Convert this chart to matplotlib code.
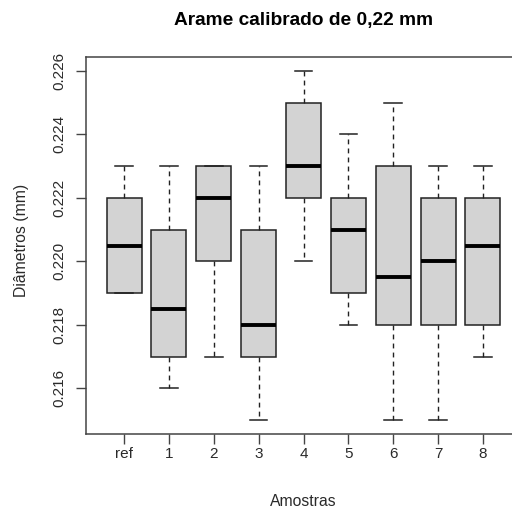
import matplotlib.pyplot as plt

plt.rcParams['font.family'] = ['Liberation Sans', 'DejaVu Sans']

amostras = ["ref", "1", "2", "3", "4", "5", "6", "7", "8"]
minimo = [0.219, 0.216, 0.217, 0.215, 0.220, 0.218, 0.215, 0.215, 0.217]
q1 = [0.219, 0.217, 0.220, 0.217, 0.222, 0.219, 0.218, 0.218, 0.218]
mediana = [0.2205, 0.2185, 0.222, 0.218, 0.223, 0.221, 0.2195, 0.220, 0.2205]
q3 = [0.222, 0.221, 0.223, 0.221, 0.225, 0.222, 0.223, 0.222, 0.222]
maximo = [0.223, 0.223, 0.223, 0.223, 0.226, 0.224, 0.225, 0.223, 0.223]

stats = []
for i in range(len(amostras)):
    stats.append(dict(label=amostras[i], whislo=minimo[i], q1=q1[i],
                      med=mediana[i], q3=q3[i], whishi=maximo[i]))

fig = plt.figure(figsize=(5.12, 5.13), dpi=100)
# o painel continua para além da borda direita
ax = fig.add_axes([85.5 / 512, 79 / 513, 436 / 512, 377 / 513])

ax.bxp(stats, positions=range(1, 10), widths=0.78, patch_artist=True,
       showfliers=False,
       boxprops=dict(facecolor="#d3d3d3", edgecolor="#222222", linewidth=1.1),
       medianprops=dict(color="black", linewidth=2.8, solid_capstyle="butt"),
       whiskerprops=dict(color="#222222", linewidth=1.0, linestyle=(0, (3.5, 3))),
       capprops=dict(color="#222222", linewidth=1.1))

ax.set_xlim(0.14, 9.86)
ax.set_ylim(0.21456, 0.22644)
ax.set_yticks([0.216, 0.218, 0.220, 0.222, 0.224, 0.226])
ax.set_yticklabels(["0.216", "0.218", "0.220", "0.222", "0.224", "0.226"],
                   rotation=90, va="center")
ax.set_xticks(range(1, 10))
ax.set_xticklabels(amostras)

for s in ax.spines.values():
    s.set_color("#444444")
    s.set_linewidth(1.1)

ax.tick_params(axis="both", direction="out", length=7, width=1.0,
               color="#444444", labelsize=11, labelcolor="#2a2a2a")
ax.tick_params(axis="y", pad=7)
ax.tick_params(axis="x", pad=2)

# títulos centrados sobre a região do gráfico
cx = (85.5 + 218) / 512
fig.text(22 / 512, 1 - 240 / 513, "Diâmetros (mm)", rotation=90,
         ha="center", va="center", fontsize=11.3, color="#2a2a2a")
fig.text(cx, 1 - 502 / 513, "Amostras",
         ha="center", va="center", fontsize=11.3, color="#2a2a2a")
fig.text(cx, 1 - 20 / 513, "Arame calibrado de 0,22 mm",
         ha="center", va="center", fontsize=13.8, fontweight="bold")

fig.savefig("out.png", dpi=100)
